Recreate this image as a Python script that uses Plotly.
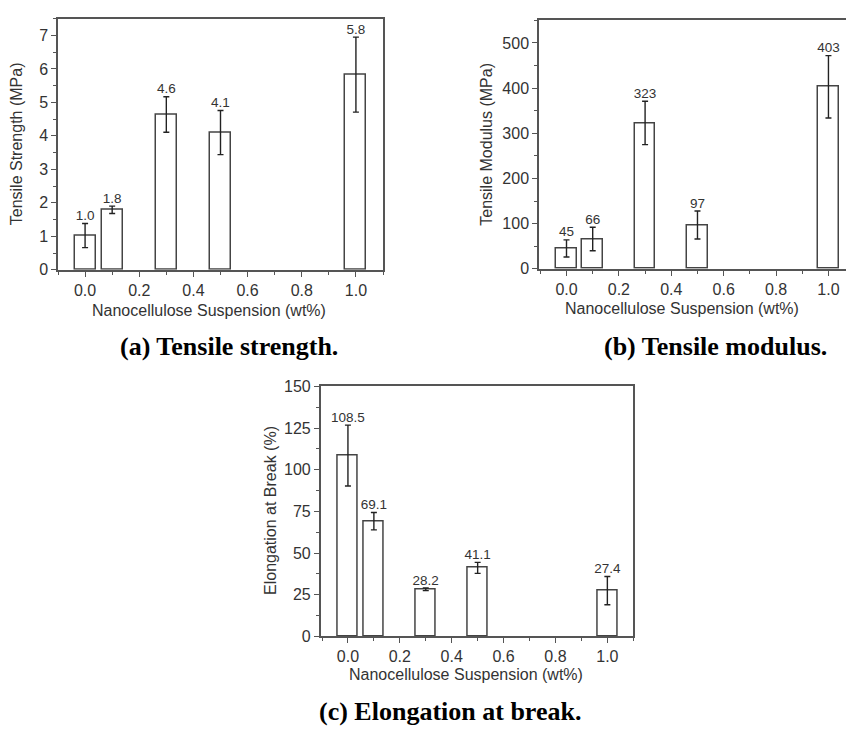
import plotly.graph_objects as go

# ---------------- data ----------------
conc = [0.0, 0.1, 0.3, 0.5, 1.0]

strength = [1.02, 1.79, 4.64, 4.10, 5.83]
strength_err = [0.36, 0.11, 0.53, 0.66, 1.12]
strength_lbl = ["1.0", "1.8", "4.6", "4.1", "5.8"]

modulus = [45, 66, 323, 97, 403]
modulus_err = [19, 26, 48, 31, 69]
modulus_lbl = ["45", "66", "323", "97", "403"]

elong = [108.5, 69.1, 28.2, 41.1, 27.4]
elong_err = [18.3, 5.2, 0.8, 3.3, 8.5]
elong_lbl = ["108.5", "69.1", "28.2", "41.1", "27.4"]

x_title = "Nanocellulose Suspension (wt%)"
y_titles = ["Tensile Strength (MPa)", "Tensile Modulus (MPa)", "Elongation at Break (%)"]
captions = ["(a) Tensile strength.", "(b) Tensile modulus.", "(c) Elongation at break."]

W, H = 846, 729
INK = "#333333"
LINE = "#444444"

fig = go.Figure()

panels = [
    dict(vals=strength, err=strength_err, lbl=strength_lbl, xa="x", ya="y",
         xdom=[58 / W, 383 / W], ydom=[(H - 268) / H, (H - 11) / H],
         xr=[-0.1, 1.1], yr=[0, 7.5], dy=1, mdy=0.5, ymirror=True),
    dict(vals=modulus, err=modulus_err, lbl=modulus_lbl, xa="x2", ya="y2",
         xdom=[539 / W, 1.0], ydom=[(H - 267) / H, (H - 12.7) / H],
         xr=[-0.105, 1.067], yr=[0, 550], dy=100, mdy=50, ymirror=False),
    dict(vals=elong, err=elong_err, lbl=elong_lbl, xa="x3", ya="y3",
         xdom=[320.7 / W, 633.3 / W], ydom=[(H - 643.3) / H, (H - 387.5) / H],
         xr=[-0.105, 1.1], yr=[0, 150], dy=25, mdy=12.5, ymirror=True),
]

for i, p in enumerate(panels):
    fig.add_trace(go.Bar(
        x=conc, y=p["vals"], width=0.078,
        marker=dict(color="white", line=dict(color=LINE, width=1.5)),
        error_y=dict(type="data", array=p["err"], visible=True,
                     color="#222222", thickness=1.4, width=3),
        xaxis=p["xa"], yaxis=p["ya"], showlegend=False, hoverinfo="skip",
    ))
    fig.add_trace(go.Scatter(
        x=conc, y=[v + e for v, e in zip(p["vals"], p["err"])],
        mode="text", text=p["lbl"], textposition="top center",
        textfont=dict(family="Liberation Sans, Arial", size=13.5, color=INK),
        xaxis=p["xa"], yaxis=p["ya"], showlegend=False, hoverinfo="skip",
        cliponaxis=False,
    ))
    sfx = "" if i == 0 else str(i + 1)
    axis_common = dict(showline=True, linecolor="#555555", linewidth=1.5,
                       ticks="outside", tickcolor="#555555", ticklen=5,
                       tickfont=dict(family="Liberation Sans, Arial", size=16, color=INK),
                       showgrid=False, zeroline=False, fixedrange=True)
    fig.update_layout(**{
        "xaxis" + sfx: dict(domain=p["xdom"], range=p["xr"], anchor="y" + sfx,
                            tickmode="array", tickvals=[0, 0.2, 0.4, 0.6, 0.8, 1.0],
                            ticktext=["0.0", "0.2", "0.4", "0.6", "0.8", "1.0"],
                            mirror=True,
                            minor=dict(ticks="outside", ticklen=3, dtick=0.1,
                                       tick0=0, tickcolor="#555555"),
                            **axis_common),
        "yaxis" + sfx: dict(domain=p["ydom"], range=p["yr"], anchor="x" + sfx,
                            dtick=p["dy"], tick0=0, mirror=p["ymirror"],
                            minor=dict(ticks="outside", ticklen=3, dtick=p["mdy"],
                                       tick0=0, tickcolor="#555555"),
                            **axis_common),
    })

ann = []
title_font = dict(family="Liberation Sans, Arial", size=16, color=INK)
# y titles
for txt, xpx, ypx in zip(y_titles, [16, 487, 271], [139.5, 140, 515]):
    ann.append(dict(text=txt, xref="paper", yref="paper", x=xpx / W, y=(H - ypx) / H,
                    xanchor="center", yanchor="middle", textangle=-90,
                    showarrow=False, font=title_font))
# x titles
for xpx, ypx in zip([209, 682, 466], [310, 308, 682]):
    ann.append(dict(text=x_title, xref="paper", yref="paper", x=xpx / W, y=(H - ypx) / H,
                    xanchor="center", yanchor="middle", showarrow=False, font=title_font))
# captions
cap_font = dict(family="Liberation Serif, Times New Roman", size=26, color="black")
for txt, xpx, ypx in zip(captions, [118, 602, 317], [347, 347, 720]):
    ann.append(dict(text="<b>" + txt + "</b>", xref="paper", yref="paper",
                    x=xpx / W, y=(H - ypx) / H, xanchor="left", yanchor="middle",
                    showarrow=False, font=cap_font))

fig.update_layout(
    width=W, height=H, margin=dict(l=0, r=0, t=0, b=0),
    paper_bgcolor="white", plot_bgcolor="white",
    annotations=ann, bargap=0,
)

fig.write_html("out.html")
